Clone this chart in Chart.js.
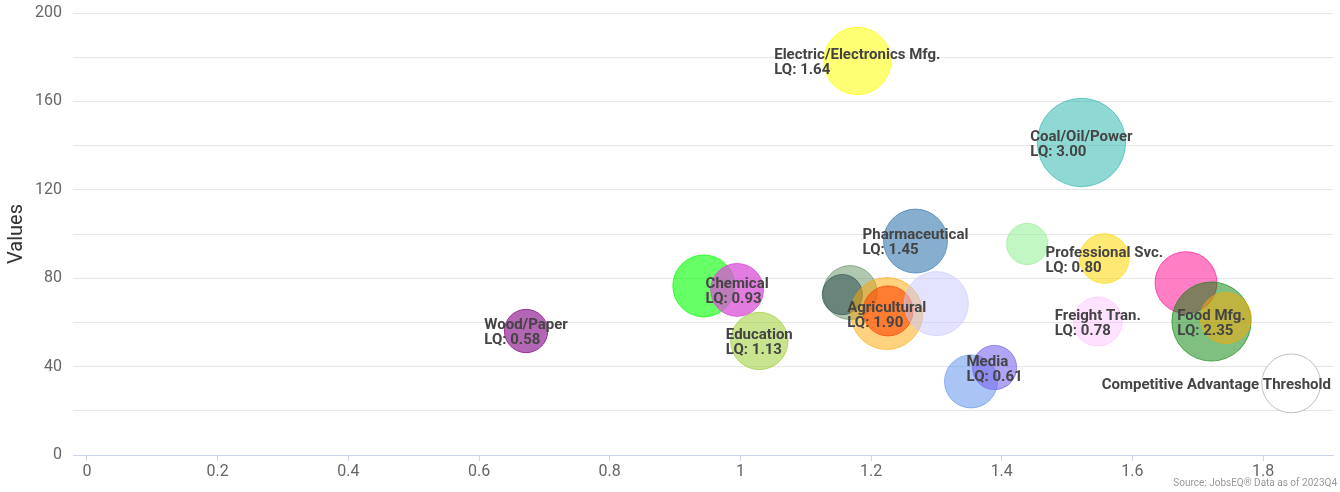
<!DOCTYPE html>
<html>
<head>
<meta charset="utf-8">
<script src="https://cdn.jsdelivr.net/npm/chart.js@4/dist/chart.umd.min.js"></script>
<style>
  html, body { margin: 0; padding: 0; background: #fff; }
  #wrap { width: 1340px; height: 492px; position: relative; }
</style>
</head>
<body>
<div id="wrap"><canvas id="c"></canvas></div>
<script>
// Industry clusters: x = growth index, y = value, size = location quotient (LQ)
const industries = [
  'Wood/Paper', '', 'Chemical', 'Education', '', '', 'Agricultural', '', '',
  'Pharmaceutical', 'Electric/Electronics Mfg.', '', 'Coal/Oil/Power',
  'Professional Svc.', 'Freight Tran.', '', 'Food Mfg.', '', '', 'Media',
  'Competitive Advantage Threshold'
];
const xValues = [
  0.672, 0.944, 0.995, 1.029, 1.168, 1.156, 1.224, 1.226, 1.300,
  1.268, 1.179, 1.439, 1.522,
  1.557, 1.547, 1.682, 1.721, 1.743, 1.353, 1.389,
  1.843
];
const yValues = [
  56.1, 76.5, 74.7, 51.6, 73.5, 72.6, 64.0, 65.2, 68.5,
  96.8, 178.3, 95.5, 141.4,
  88.9, 60.4, 78.0, 60.4, 62.0, 33.3, 39.6,
  32.4
];
const lqValues = [
  0.58, 1.35, 0.93, 1.13, 0.98, 0.48, 1.90, 0.82, 1.46,
  1.45, 1.64, 0.51, 3.00,
  0.80, 0.78, 1.35, 2.35, 0.86, 0.94, 0.61,
  1.20
];
const thresholdName = 'Competitive Advantage Threshold';
const xTicks = [0, 0.2, 0.4, 0.6, 0.8, 1, 1.2, 1.4, 1.6, 1.8];
const yTicks = [0, 20, 40, 60, 80, 100, 120, 140, 160, 180, 200];
const yLabelStep = 40;
const sourceNote = 'Source: JobsEQ\u00AE Data as of 2023Q4';

// bubble fills, one per point
const fills = [
  'rgba(128,0,128,0.6)',   'rgba(0,255,0,0.6)',     'rgba(218,80,214,0.75)', 'rgba(154,205,50,0.55)',
  'rgba(80,130,80,0.45)',  'rgba(47,79,79,0.55)',   'rgba(255,165,0,0.5)',   'rgba(255,69,0,0.6)',
  'rgba(200,200,255,0.5)', 'rgba(70,130,180,0.65)', 'rgba(255,255,0,0.55)',  'rgba(144,238,144,0.55)',
  'rgba(32,178,170,0.5)',  'rgba(255,215,0,0.55)',  'rgba(255,182,255,0.4)', 'rgba(255,20,147,0.55)',
  'rgba(0,128,0,0.5)',     'rgba(255,170,0,0.5)',   'rgba(100,149,237,0.55)','rgba(123,104,238,0.6)',
  'rgba(255,255,255,1)'
];
const borders = fills.map((c, i) =>
  industries[i] === thresholdName ? 'rgba(190,190,190,1)' : c.replace(/[\d.]+\)$/, m => Math.min(1, parseFloat(m) + 0.1) + ')')
);

// bubble size: area proportional to LQ, diameters between 8px and 20% of the plot height
const MIN_D = 8, MAX_D = 88.4;
const zMax = Math.max(...lqValues);
const radiusFor = z => (MIN_D + Math.sqrt(z / zMax) * (MAX_D - MIN_D)) / 2;

const points = xValues.map((x, i) => ({ x, y: yValues[i], r: radiusFor(lqValues[i]) }));

const labelPlugin = {
  id: 'bubbleLabels',
  afterDatasetsDraw(chart) {
    const ctx = chart.ctx, area = chart.chartArea;
    const meta = chart.getDatasetMeta(0);
    ctx.save();
    ctx.font = 'bold 15px Roboto';
    ctx.fillStyle = '#444';
    ctx.textBaseline = 'middle';
    ctx.textAlign = 'left';
    const lh = 15;
    meta.data.forEach((pt, i) => {
      const name = industries[i];
      if (!name) return;
      const lines = name === thresholdName ? [name] : [name, 'LQ: ' + lqValues[i].toFixed(2)];
      const w = Math.max(...lines.map(l => ctx.measureText(l).width));
      let x0 = pt.x - w / 2;
      if (x0 + w > area.right - 2) x0 = area.right - 2 - w;
      if (x0 < area.left) x0 = area.left;
      const y0 = pt.y + 2 - (lines.length - 1) * lh / 2;
      lines.forEach((l, k) => ctx.fillText(l, x0, y0 + k * lh));
    });
    ctx.restore();
  },
  afterDraw(chart) {
    const ctx = chart.ctx;
    ctx.save();
    ctx.font = '10px Roboto';
    ctx.fillStyle = '#999';
    ctx.textAlign = 'right';
    ctx.textBaseline = 'middle';
    ctx.fillText(sourceNote, chart.width - 3, chart.height - 9);
    ctx.restore();
  }
};

new Chart(document.getElementById('c'), {
  type: 'bubble',
  data: {
    datasets: [{
      data: points,
      backgroundColor: fills,
      borderColor: borders,
      borderWidth: 1,
      clip: false
    }]
  },
  options: {
    responsive: true,
    maintainAspectRatio: false,
    animation: false,
    layout: { autoPadding: false, padding: { left: 0, right: 7, top: 13, bottom: 0 } },
    plugins: { legend: { display: false }, tooltip: { enabled: false } },
    events: [],
    scales: {
      x: {
        type: 'linear',
        min: -0.0214,
        max: 1.907,
        afterBuildTicks: s => { s.ticks = xTicks.map(v => ({ value: v })); },
        afterFit: s => { s.height = 37; s.paddingLeft = 0; s.paddingRight = 0; },
        grid: { display: true, drawOnChartArea: false, drawTicks: true, tickLength: 6, color: '#ccd6eb' },
        border: { display: true, color: '#ccd6eb', width: 1 },
        ticks: {
          padding: 1,
          color: '#666',
          font: { family: 'Roboto', size: 16 },
          maxRotation: 0,
          autoSkip: false,
          callback: v => String(Number(v.toFixed(1)))
        }
      },
      y: {
        type: 'linear',
        min: 0,
        max: 200,
        afterBuildTicks: s => { s.ticks = yTicks.map(v => ({ value: v })); },
        afterFit: s => { s.width = 73; s.paddingTop = 0; s.paddingBottom = 0; },
        grid: { color: '#e6e6e6', drawTicks: false },
        border: { display: false },
        ticks: {
          padding: 11,
          color: '#666',
          font: { family: 'Roboto', size: 16 },
          autoSkip: false,
          callback: v => (v % yLabelStep === 0 ? String(v) : '')
        },
        title: {
          display: true,
          text: 'Values',
          color: '#333',
          font: { family: 'Roboto', size: 20 },
          padding: { top: 5, bottom: 0 }
        }
      }
    }
  },
  plugins: [labelPlugin]
});
</script>
</body>
</html>
